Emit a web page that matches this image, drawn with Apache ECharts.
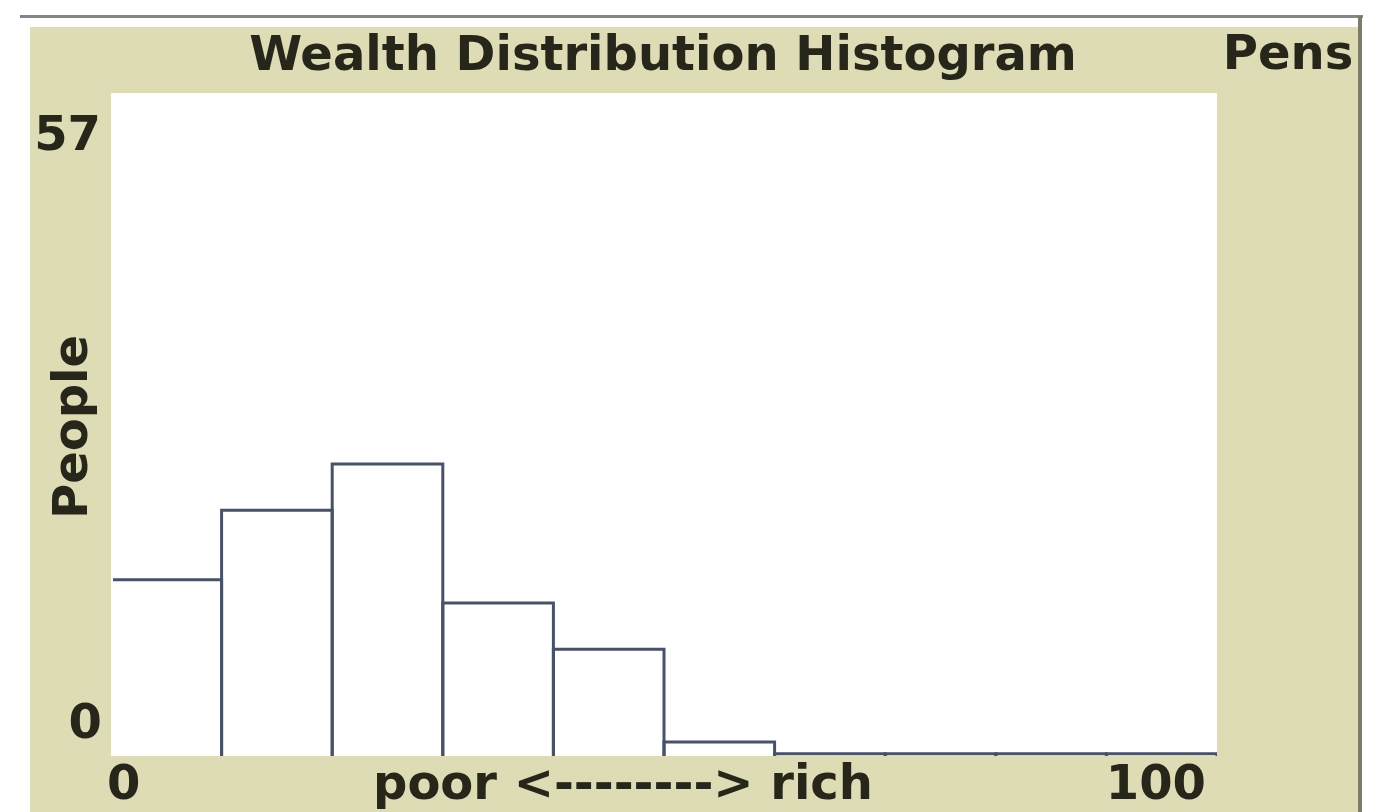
<!DOCTYPE html>
<html>
<head>
<meta charset="utf-8">
<script src="https://cdn.jsdelivr.net/npm/echarts@6/dist/echarts.min.js"></script>
<style>
  html, body { margin: 0; padding: 0; background: #ffffff; }
  #chart { width: 1381px; height: 812px; }
</style>
</head>
<body>
<div id="chart"></div>
<script>
// ---- data ----
const titleText = 'Wealth Distribution Histogram';
const legendTitle = 'Pens';
const yAxisLabel = 'People';
const xAxisLabel = 'poor <--------> rich';
const binLower = [0, 10, 20, 30, 40, 50, 60, 70, 80, 90];
const binUpper = [10, 20, 30, 40, 50, 60, 70, 80, 90, 100];
const counts   = [15, 21, 25, 13, 9, 1, 0, 0, 0, 0];
const yTickLabels = ['57', '0'];
const xTickLabels = ['0', '100'];
const X_MIN = 0, X_MAX = 100, Y_MAX = 57, Y_MIN = -0.2;

// ---- styles ----
const BEIGE = '#dddcb4';
const TEXT = '#26261a';
const BAR = '#46526a';
const FONT = '"DejaVu Sans", Verdana, sans-serif';

const seriesData = binLower.map((lo, i) => [lo, binUpper[i], counts[i]]);

function renderItem(params, api) {
  const lo = api.value(0), hi = api.value(1), c = api.value(2);
  const pTopL = api.coord([lo, c]);
  const pTopR = api.coord([hi, c]);
  const base = api.coord([lo, Y_MIN])[1];
  const cs = params.coordSys;
  return {
    type: 'polyline',
    shape: { points: [[pTopL[0], base], pTopL, pTopR, [pTopR[0], base]] },
    style: { stroke: BAR, lineWidth: 3, fill: null },
    clipPath: { type: 'rect', shape: { x: cs.x + 2, y: cs.y, width: cs.width - 2, height: cs.height } }
  };
}

function txt(text, x, y, align, vAlign, extra) {
  return Object.assign({
    type: 'text', x: x, y: y, z: 10,
    style: { text: text, fill: TEXT, font: 'bold 48px ' + FONT, align: align, verticalAlign: vAlign }
  }, extra || {});
}

const chart = echarts.init(document.getElementById('chart'), null, { renderer: 'canvas' });
chart.setOption({
  backgroundColor: '#ffffff',
  animation: false,
  grid: { left: 111, right: 164, top: 93, bottom: 56, show: true, backgroundColor: '#ffffff', borderWidth: 0 },
  xAxis: { type: 'value', min: X_MIN, max: X_MAX, show: false },
  yAxis: { type: 'value', min: Y_MIN, max: Y_MAX, show: false },
  graphic: { elements: [
    { type: 'rect', z: -100, shape: { x: 30, y: 27, width: 1328, height: 800 }, style: { fill: BEIGE } },
    { type: 'rect', z: -99, shape: { x: 20, y: 15, width: 1343, height: 3 }, style: { fill: '#858585' } },
    { type: 'rect', z: -99, shape: { x: 1358, y: 16, width: 4, height: 800 }, style: { fill: '#7c7c68' } },
    txt(titleText, 663, 58, 'center', 'middle'),
    txt(legendTitle, 1288, 57, 'center', 'middle'),
    txt(yTickLabels[0], 101, 138, 'right', 'middle'),
    txt(yTickLabels[1], 102, 726, 'right', 'middle'),
    txt(xTickLabels[0], 107, 787, 'left', 'middle'),
    txt(xTickLabels[1], 1206, 787, 'right', 'middle'),
    txt(xAxisLabel, 623, 787, 'center', 'middle'),
    txt(yAxisLabel, 75, 427, 'center', 'middle', { rotation: Math.PI / 2 })
  ] },
  series: [{
    type: 'custom',
    renderItem: renderItem,
    encode: { x: [0, 1], y: 2 },
    data: seriesData
  }]
});
</script>
</body>
</html>
